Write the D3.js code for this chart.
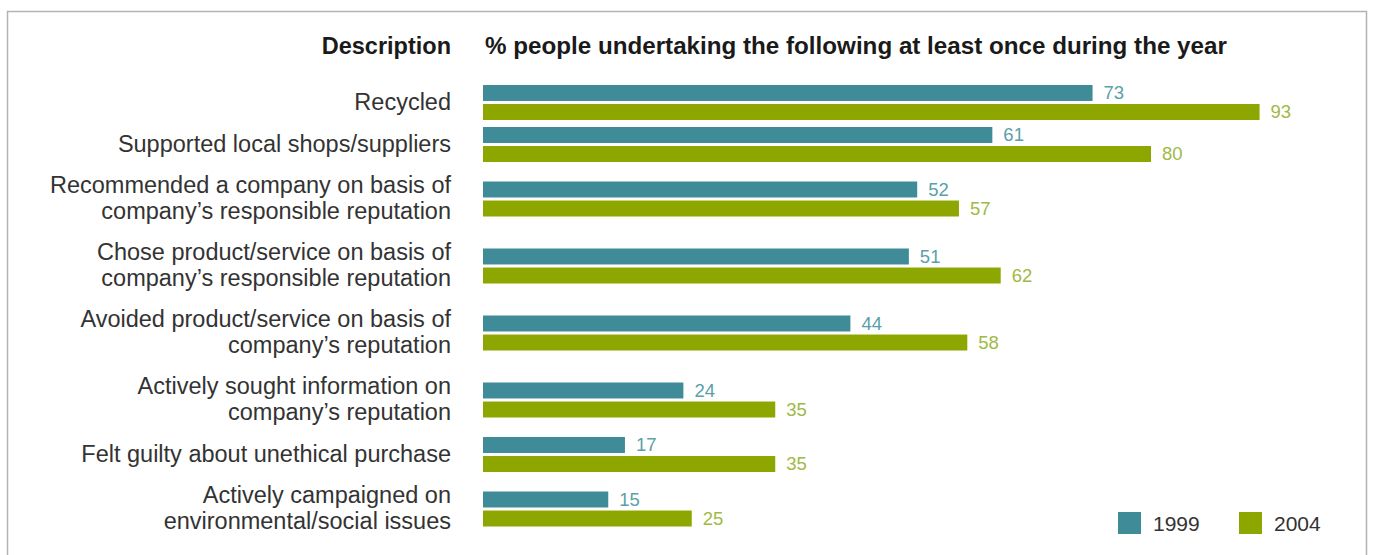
<!DOCTYPE html>
<html>
<head>
<meta charset="utf-8">
<script src="https://cdn.jsdelivr.net/npm/d3@7"></script>
<style>
  body { margin: 0; background: #fff; }
  svg text { font-family: "Liberation Sans", "Helvetica Neue", Arial, sans-serif; }
</style>
</head>
<body>
<svg id="chart" width="1374" height="555"></svg>
<script>
// data
let categories = [
    ["Recycled"],
    ["Supported local shops/suppliers"],
    ["Recommended a company on basis of", "company\u2019s responsible reputation"],
    ["Chose product/service on basis of", "company\u2019s responsible reputation"],
    ["Avoided product/service on basis of", "company\u2019s reputation"],
    ["Actively sought information on", "company\u2019s reputation"],
    ["Felt guilty about unethical purchase"],
    ["Actively campaigned on", "environmental/social issues"]
]
let years = ["1999", "2004"]
let values1999 = [73, 61, 52, 51, 44, 24, 17, 15]
let values2004 = [93, 80, 57, 62, 58, 35, 35, 25]

let colors = { "1999": "#3f8b97", "2004": "#8ea600" }
let textColors = { "1999": "#5a9fa9", "2004": "#a0b945" }

let svg = d3.select("#chart")

// frame
svg.append("path")
    .attr("d", "M7.5,560 V11.5 H1366.5 V560")
    .attr("fill", "none")
    .attr("stroke", "#b3b3b3")
    .attr("stroke-width", 1.5)

let x = d3.scaleLinear()
    .domain([0, 100])
    .range([483, 483 + 835])

// row heights depend on the number of label lines
let rowH = (lines) => lines == 1 ? 42 : 67
let centers = []
let cy = 102.5
categories.forEach(function (c, i) {
    if (i > 0) cy += (rowH(categories[i - 1].length) + rowH(c.length)) / 2
    centers.push(cy)
})

let inner = d3.scaleBand()
    .domain(years)
    .range([-17.5, 17.5])
    .paddingInner(0.16)

let rows = categories.map((c, i) => ({
    label: c,
    center: centers[i],
    vals: [{ year: "1999", v: values1999[i] }, { year: "2004", v: values2004[i] }]
}))

// header
svg.append("text")
    .attr("x", 451).attr("y", 54)
    .attr("text-anchor", "end")
    .attr("font-size", 23.5).attr("font-weight", "bold").attr("fill", "#1a1a1a")
    .text("Description")
svg.append("text")
    .attr("x", 485).attr("y", 54)
    .attr("font-size", 24.2).attr("font-weight", "bold").attr("fill", "#1a1a1a")
    .text("% people undertaking the following at least once during the year")

let g = svg.selectAll("g.row")
    .data(rows)
    .enter()
    .append("g")
    .attr("class", "row")
    .attr("transform", d => "translate(0," + d.center + ")")

g.append("text")
    .attr("text-anchor", "end")
    .attr("font-size", 23.5).attr("fill", "#333")
    .selectAll("tspan")
    .data(d => d.label.map((t, j) => ({ t: t, j: j, n: d.label.length })))
    .enter()
    .append("tspan")
    .attr("x", 451)
    .attr("y", d => (d.j - (d.n - 1) / 2) * 26 + 7)
    .text(d => d.t)

g.selectAll("rect")
    .data(d => d.vals)
    .enter()
    .append("rect")
    .attr("x", x(0))
    .attr("y", d => inner(d.year))
    .attr("width", d => x(d.v) - x(0))
    .attr("height", inner.bandwidth())
    .attr("fill", d => colors[d.year])

g.selectAll("text.val")
    .data(d => d.vals)
    .enter()
    .append("text")
    .attr("class", "val")
    .attr("x", d => x(d.v) + 11)
    .attr("y", d => inner(d.year) + inner.bandwidth() / 2 + 6)
    .attr("font-size", 18.5).attr("fill", d => textColors[d.year])
    .text(d => d.v)

// legend
let legend = svg.selectAll("g.legend")
    .data(years)
    .enter()
    .append("g")
    .attr("class", "legend")
    .attr("transform", (d, i) => "translate(" + (1118 + i * 121) + ",512)")
legend.append("rect")
    .attr("width", 23).attr("height", 22)
    .attr("fill", d => colors[d])
legend.append("text")
    .attr("x", 35).attr("y", 19)
    .attr("font-size", 21).attr("fill", "#333")
    .text(d => d)
</script>
</body>
</html>
